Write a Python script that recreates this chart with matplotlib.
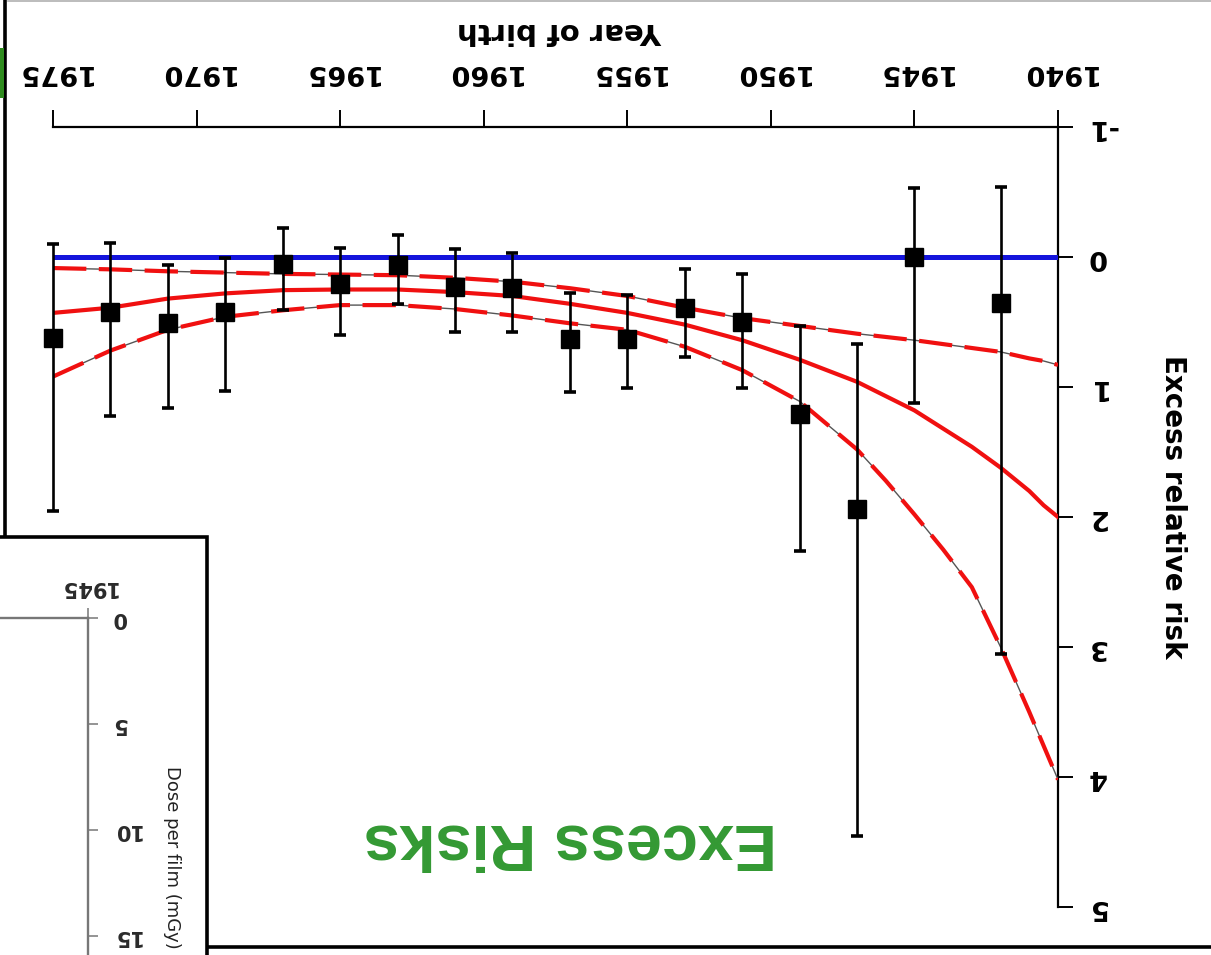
import matplotlib
matplotlib.use("Agg")
import matplotlib.pyplot as plt
from matplotlib.patches import Rectangle
from matplotlib.lines import Line2D

plt.rcParams["axes.unicode_minus"] = False

birth_years = [1975, 1973, 1971, 1969, 1967, 1965, 1963, 1961, 1959,
               1957, 1955, 1953, 1951, 1949, 1947, 1945, 1942]
err_value = [0.62, 0.42, 0.51, 0.42, 0.05, 0.21, 0.06, 0.23, 0.24,
             0.63, 0.63, 0.39, 0.50, 1.21, 1.94, 0.00, 0.35]
err_low = [-0.10, -0.11, 0.06, 0.01, -0.22, -0.07, -0.17, -0.06, -0.03,
           0.28, 0.29, 0.09, 0.13, 0.53, 0.67, -0.53, -0.54]
err_high = [1.95, 1.22, 1.16, 1.03, 0.41, 0.60, 0.36, 0.58, 0.58,
            1.04, 1.01, 0.77, 1.01, 2.26, 4.45, 1.12, 3.05]

fit_years = [1975, 1973, 1971, 1969, 1967, 1965, 1963, 1961, 1959, 1957,
             1955, 1953, 1951, 1949, 1947, 1946, 1945, 1944, 1943, 1942,
             1941, 1940.5, 1940]
fit_mid = [0.43, 0.39, 0.32, 0.28, 0.255, 0.25, 0.25, 0.27, 0.30, 0.36,
           0.43, 0.52, 0.64, 0.79, 0.96, 1.07, 1.18, 1.32, 1.46, 1.62,
           1.80, 1.91, 2.0]
fit_lower = [0.085, 0.095, 0.11, 0.12, 0.13, 0.135, 0.14, 0.16, 0.19, 0.24,
             0.30, 0.39, 0.47, 0.53, 0.59, 0.615, 0.64, 0.67, 0.70, 0.73,
             0.78, 0.80, 0.83]
fit_upper = [0.92, 0.72, 0.56, 0.46, 0.41, 0.37, 0.37, 0.40, 0.45, 0.51,
             0.56, 0.69, 0.87, 1.11, 1.48, 1.72, 1.98, 2.25, 2.54, 3.00,
             3.50, 3.76, 4.02]
baseline_years = [1975, 1940]
baseline_vals = [0.0, 0.0]

x_ticks = [1975, 1970, 1965, 1960, 1955, 1950, 1945, 1940]
y_ticks = [-1, 0, 1, 2, 3, 4, 5]
dose_ticks = [0, 5, 10, 15]
dose_year_ticks = [1945]

W, H = 1211, 955
fig = plt.figure(figsize=(W / 100, H / 100), dpi=100)
fig.patch.set_facecolor("white")
FONT = "DejaVu Sans"

# frame pieces around the picture
fig.add_artist(Rectangle((5 / W, 8 / H), 1.2, 1.2, transform=fig.transFigure,
                         facecolor="none", edgecolor="black", lw=2.6, zorder=1))
fig.add_artist(Line2D([8 / W, 1], [1 - 1.5 / H, 1 - 1.5 / H], transform=fig.transFigure,
                      color="#b0b0b0", lw=1.2, zorder=1))
fig.add_artist(Rectangle((0, (H - 98) / H), 4 / W, 50 / H, transform=fig.transFigure,
                         facecolor="#2e8b1e", edgecolor="none", zorder=1))

# main chart, drawn rotated by 180 degrees
ax = fig.add_axes([53 / W, 48 / H, 1005 / W, 780 / H])
ax.set_zorder(2)
ax.patch.set_visible(False)
ax.set_xlim(1975, 1940)
ax.set_ylim(5, -1)

ax.plot(baseline_years, baseline_vals, color="#1414dc", lw=3.6, zorder=3)
ax.plot(fit_years, fit_mid, color="#f01010", lw=3.0, zorder=4)
for band in (fit_lower, fit_upper):
    ax.plot(fit_years, band, color="#555555", lw=1.0, zorder=4)
    ax.plot(fit_years, band, color="#f01010", lw=3.0, dashes=(8, 3), zorder=4)

yerr = [[v - lo for v, lo in zip(err_value, err_low)],
        [hi - v for v, hi in zip(err_value, err_high)]]
eb = ax.errorbar(birth_years, err_value, yerr=yerr, fmt="s", color="black",
                 ms=12.5, ecolor="black", elinewidth=1.9, capsize=4.5,
                 capthick=2.6, zorder=5)
eb[0].set_clip_on(False)
for part in eb[1] + eb[2]:
    part.set_clip_on(False)

for side in ("left", "bottom"):
    ax.spines[side].set_visible(False)
for side in ("top", "right"):
    ax.spines[side].set_linewidth(1.6)
ax.xaxis.tick_top()
ax.yaxis.tick_right()
ax.set_xticks(x_ticks)
ax.set_yticks(y_ticks)
ax.tick_params(axis="x", direction="out", length=12.5, width=1.4, pad=18,
               labelsize=19.5, labelrotation=180)
ax.tick_params(axis="y", direction="out", length=11, width=1.4, pad=10,
               labelsize=19.5, labelrotation=180)
for lab in ax.get_xticklabels() + ax.get_yticklabels():
    lab.set_fontfamily(FONT)
    lab.set_fontweight("bold")
for lab in ax.get_yticklabels():
    lab.set_verticalalignment("center")

ax.set_xlabel("Year of birth", fontsize=21, fontweight="bold", family=FONT,
              rotation=180)
ax.xaxis.set_label_position("top")
ax.xaxis.set_label_coords((560 - 53) / 1005, (H - 31 - 48) / 780)
ax.xaxis.label.set_verticalalignment("center")
ax.xaxis.label.set_horizontalalignment("center")
ax.set_ylabel("Excess relative risk", fontsize=20, fontweight="bold", family=FONT,
              rotation=270)
ax.yaxis.set_label_position("right")
ax.yaxis.set_label_coords((1173 - 53) / 1005, (H - 507 - 48) / 780)
ax.yaxis.label.set_verticalalignment("center")
ax.yaxis.label.set_horizontalalignment("center")

# big green caption
fig.text(570 / W, 1 - 841 / H, "Excess Risks", color="#339933", fontsize=46.5,
         fontweight="bold", family="Liberation Sans", rotation=180,
         ha="center", va="center")

# inset box in the lower left corner
fig.add_artist(Rectangle((-0.02, -0.02), 207 / W + 0.02, (H - 537) / H + 0.02,
                         transform=fig.transFigure, facecolor="white",
                         edgecolor="black", lw=2.6, zorder=2.5))

ax2 = fig.add_axes([-0.25, -0.03, 88 / W + 0.25, (H - 618) / H + 0.03])
ax2.set_zorder(3)
ax2.patch.set_visible(False)
ax2.set_xlim(1930, 1945)
ax2.set_ylim(0.03 * H / 21.2 + (H - 618) / 21.2, 0)
for side in ("left", "bottom"):
    ax2.spines[side].set_visible(False)
for side in ("top", "right"):
    ax2.spines[side].set_linewidth(1.7)
    ax2.spines[side].set_color("#777777")
ax2.xaxis.tick_top()
ax2.yaxis.tick_right()
ax2.set_xticks(dose_year_ticks)
ax2.set_yticks(dose_ticks)
ax2.tick_params(axis="both", direction="out", length=7, width=1.1,
                colors="#777777", labelcolor="#2a2a2a", labelsize=15,
                labelrotation=180)
ax2.tick_params(axis="x", pad=8)
ax2.tick_params(axis="y", pad=10)
for lab in ax2.get_xticklabels() + ax2.get_yticklabels():
    lab.set_fontfamily(FONT)
    lab.set_fontweight("bold")
for lab in ax2.get_yticklabels():
    lab.set_verticalalignment("center")
ax2.set_ylabel("Dose per film (mGy)", fontsize=13, family=FONT, color="#222222",
               rotation=270)
ax2.yaxis.set_label_position("right")
ax2.yaxis.label.set_verticalalignment("center")
ax2.yaxis.label.set_horizontalalignment("left")
ax2.yaxis.set_label_coords(1 + (172 - 88) / (88 + 0.25 * W),
                           (H - 766 + 0.03 * H) / (H - 618 + 0.03 * H))

fig.savefig("out.png", dpi=100, facecolor="white")
